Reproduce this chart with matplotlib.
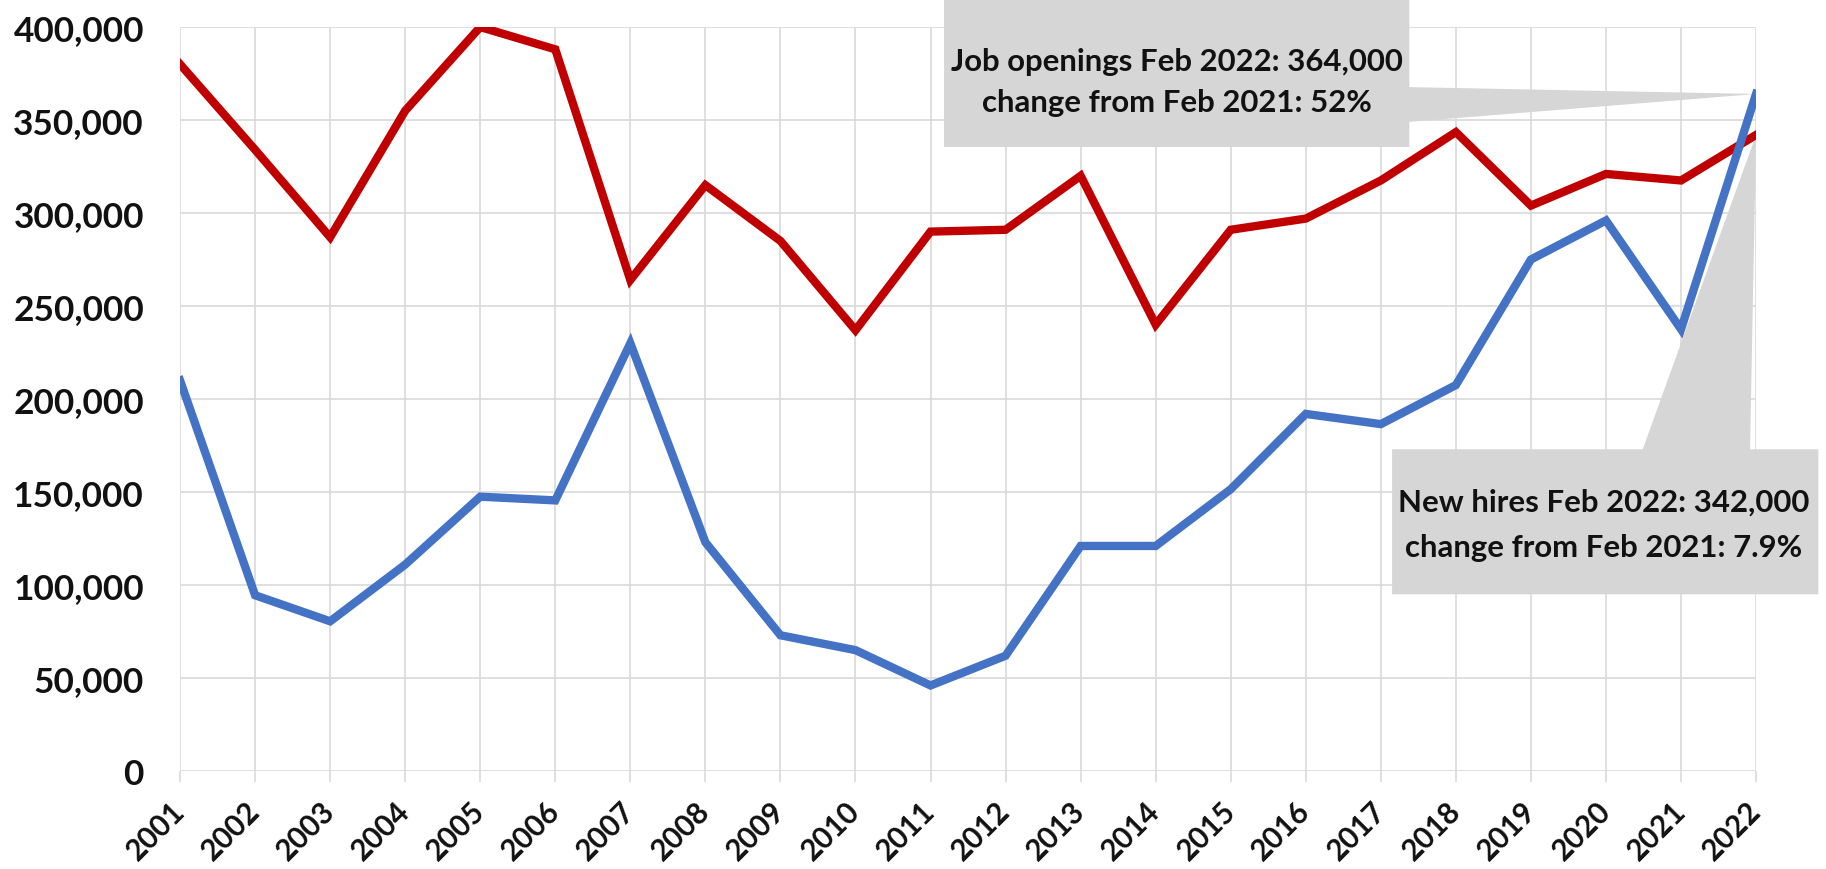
import matplotlib
matplotlib.use("Agg")
import matplotlib.pyplot as plt
from matplotlib.patches import Polygon
from matplotlib.ticker import FuncFormatter

# ---- data ----
years = list(range(2001, 2023))
new_hires = [380000, 334000, 287000, 355000, 400000, 388000, 264000, 315000,
             285000, 237000, 290000, 291000, 320000, 240000, 291000, 297000,
             317500, 343500, 304000, 321000, 317500, 342000]
job_openings = [210000, 94500, 80500, 111000, 147500, 145500, 230000, 123000,
                73000, 65000, 46000, 62000, 121000, 121000, 151500, 192000,
                186500, 207500, 275000, 296000, 237500, 364000]
y_ticks = [0, 50000, 100000, 150000, 200000, 250000, 300000, 350000, 400000]
openings_note = ["Job openings Feb 2022: 364,000", "change from Feb 2021: 52%"]
hires_note = ["New hires Feb 2022: 342,000", "change from Feb 2021: 7.9%"]

RED = "#C00000"
BLUE = "#4472C4"
GRID = "#D9D9D9"
BOX = "#D6D6D6"
FONT = ["Lato", "DejaVu Sans"]

plt.rcParams["font.family"] = FONT
plt.rcParams["font.weight"] = "bold"

fig = plt.figure(figsize=(18.26, 8.70), dpi=100)
ax = fig.add_axes([0.0986, 0.1126, 0.8631, 0.8552])

ax.set_xlim(years[0], years[-1])
ax.set_ylim(y_ticks[0], y_ticks[-1])
ax.set_xticks(years)
ax.set_yticks(y_ticks)
ax.yaxis.set_major_formatter(FuncFormatter(lambda v, p: f"{int(v):,}"))
for s in ax.spines.values():
    s.set_visible(False)
ax.set_axisbelow(True)
ax.grid(True, color=GRID, lw=1.2)

# ---- callouts (drawn under the lines) ----
bx0, bx1, by0, by1 = 2011.18, 2017.38, 335500, 416000
tip1 = (years[-1], job_openings[-1])
poly1 = Polygon([(bx0, by1), (bx1, by1), (bx1, 367700), tip1, (bx1, 349000),
                 (bx1, by0), (bx0, by0)], closed=True, fc=BOX, ec="none",
                zorder=1, clip_on=False)
ax.add_patch(poly1)

cx0, cx1, cy0, cy1 = 2017.15, 2022.83, 95000, 173000
tip2 = (years[-1], new_hires[-1])
poly2 = Polygon([(cx0, cy1), (2020.49, cy1), tip2, (2021.92, cy1), (cx1, cy1),
                 (cx1, cy0), (cx0, cy0)], closed=True, fc=BOX, ec="none",
                zorder=1, clip_on=False)
ax.add_patch(poly2)

# ---- lines ----
ax.plot(years, new_hires, color=RED, lw=6, zorder=3, solid_joinstyle="miter")
ax.plot(years, job_openings, color=BLUE, lw=6, zorder=3, solid_joinstyle="miter")

# ---- texts ----
t1a = ax.text(2014.28, 381700, openings_note[0], ha="center", va="center",
              fontsize=20, fontweight="bold", zorder=4, color="#111111")
t1b = ax.text(2014.28, 359500, openings_note[1], ha="center", va="center",
              fontsize=20, fontweight="bold", zorder=4, color="#111111")
t2a = ax.text(2019.97, 145000, hires_note[0], ha="center", va="center",
              fontsize=20, fontweight="bold", zorder=4, color="#111111")
t2b = ax.text(2019.97, 120500, hires_note[1], ha="center", va="center",
              fontsize=20, fontweight="bold", zorder=4, color="#111111")

renderer = fig.canvas.get_renderer()
w = t1a.get_window_extent(renderer).width
note_fs = 20 * 452 / w
for t in (t1a, t1b, t2a, t2b):
    t.set_fontsize(note_fs)

probe = fig.text(0, 0, "400,000", fontsize=20, fontweight="bold")
pw = probe.get_window_extent(renderer).width
probe.remove()
ytick_fs = 20 * 132 / pw
xtick_fs = ytick_fs * 0.84

ax.tick_params(axis="y", length=0, pad=26, labelsize=ytick_fs, labelcolor="#111111")
ax.tick_params(axis="x", length=8, width=1.2, color=GRID, pad=17,
               labelsize=xtick_fs, labelcolor="#111111")
for lab in ax.get_yticklabels():
    lab.set_fontweight("bold")
ax.set_xticklabels([str(y) for y in years], rotation=45, ha="right", va="center",
                   rotation_mode="anchor", fontweight="bold")

fig.savefig("out.png", dpi=100, facecolor="white")
